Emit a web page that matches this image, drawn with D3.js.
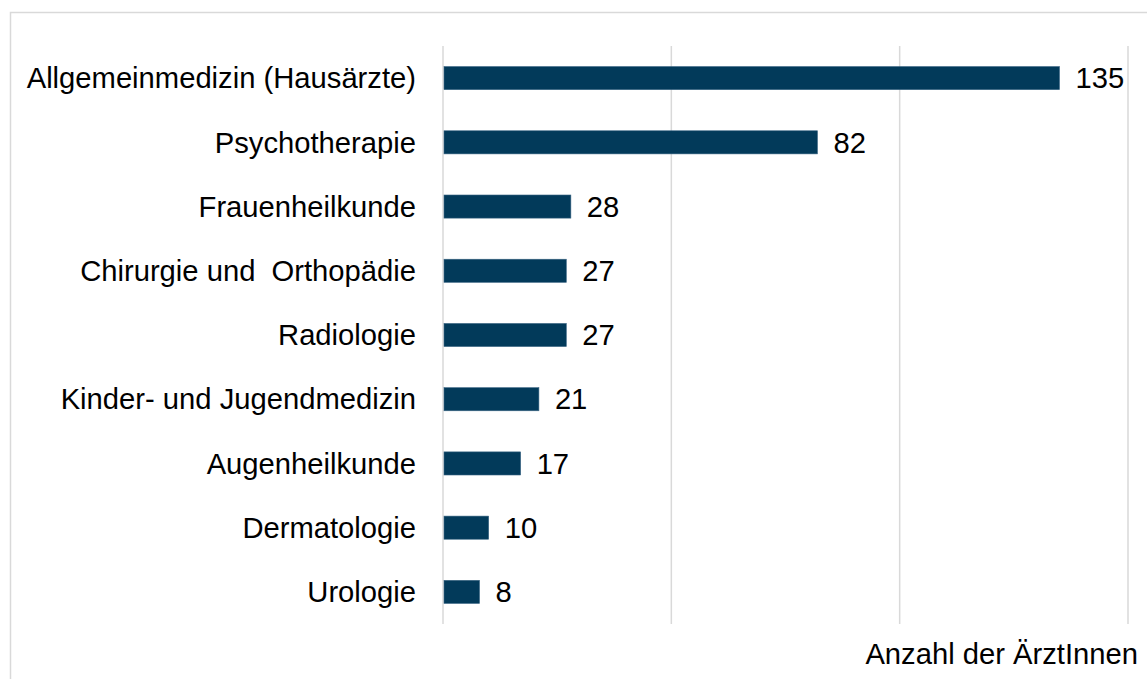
<!DOCTYPE html>
<html><head><meta charset="utf-8">
<script src="https://cdn.jsdelivr.net/npm/d3@7"></script>
<style>body{margin:0;background:#fff;}svg{display:block;font-family:"Liberation Sans",Arial,sans-serif;}text{white-space:pre;}</style>
</head><body><svg id="c" width="1147" height="679"></svg>
<script>
const categories = ["Allgemeinmedizin (Hausärzte)","Psychotherapie","Frauenheilkunde","Chirurgie und  Orthopädie","Radiologie","Kinder- und Jugendmedizin","Augenheilkunde","Dermatologie","Urologie"];
const values = [135,82,28,27,27,21,17,10,8];
const ticks = [0,50,100,150];
const axisTitle = "Anzahl der ÄrztInnen";

const svg = d3.select("#c");
svg.append("rect").attr("x",10.5).attr("y",12.5).attr("width",1160).attr("height",700)
  .attr("fill","none").attr("stroke","#d9d9d9").attr("stroke-width",1.5);

const x = d3.scaleLinear().domain([0,150]).range([443,1128]);
const y = d3.scaleBand().domain(categories).range([46,624]).paddingInner(0.64).paddingOuter(0.32);

svg.append("g").selectAll("line").data(ticks).join("line")
  .attr("x1",d=>x(d)).attr("x2",d=>x(d)).attr("y1",46).attr("y2",624)
  .attr("stroke","#d9d9d9").attr("stroke-width",1.5);

svg.append("g").selectAll("rect").data(values).join("rect")
  .attr("x",x(0)+1).attr("y",(d,i)=>y(categories[i]))
  .attr("width",d=>x(d)-x(0)-1).attr("height",y.bandwidth())
  .attr("fill","#023a5a").attr("stroke","#3a6584").attr("stroke-width",0.6);

svg.append("g").selectAll("text").data(categories).join("text")
  .attr("x",416).attr("y",d=>y(d)+y.bandwidth()/2).attr("dy","0.35em")
  .attr("text-anchor","end").attr("font-size",29.2).attr("fill","#000").text(d=>d);

svg.append("g").selectAll("text").data(values).join("text")
  .attr("x",d=>x(d)+16).attr("y",(d,i)=>y(categories[i])+y.bandwidth()/2).attr("dy","0.35em")
  .attr("font-size",29.2).attr("fill","#000").text(d=>d);

svg.append("text").attr("x",1138).attr("y",664).attr("text-anchor","end")
  .attr("font-size",29.2).attr("fill","#000").text(axisTitle);
</script></body></html>
